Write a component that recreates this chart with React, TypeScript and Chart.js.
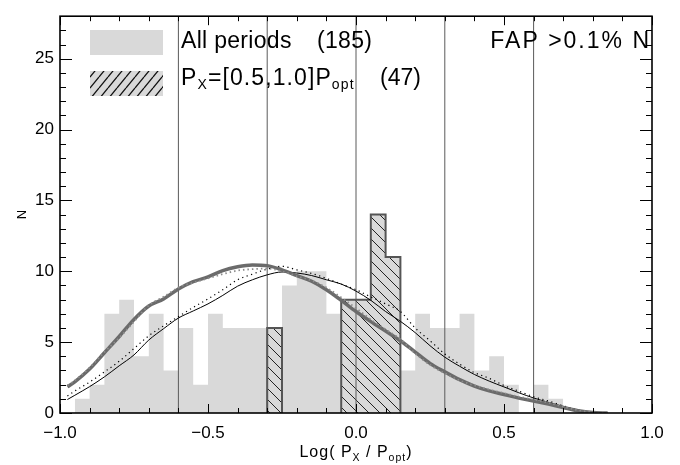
import React, { useEffect, useRef } from 'react';
import { Chart, registerables } from 'chart.js';

Chart.register(...registerables);

// ---------- data ----------
const binWidth = 0.05;
const grayBinStarts = [
  -0.95, -0.9, -0.85, -0.8, -0.75, -0.7, -0.65, -0.6, -0.55, -0.5, -0.45, -0.4, -0.35, -0.3, -0.25, -0.2, -0.15,
  -0.1, -0.05, 0.0, 0.05, 0.1, 0.15, 0.2, 0.25, 0.3, 0.35, 0.4, 0.45, 0.5, 0.55, 0.6, 0.65,
];
const grayCounts = [1, 2, 7, 8, 4, 7, 3, 6, 2, 7, 6, 6, 6, 6, 9, 10, 10, 7, 8, 8, 14, 11, 3, 7, 6, 6, 7, 3, 4, 2, 0, 2, 1];

const hatchBinStarts = [-0.3, -0.05, 0.0, 0.05, 0.1];
const hatchCounts = [6, 8, 8, 14, 11];

const curveX = [
  -0.975, -0.95, -0.9, -0.85, -0.8, -0.75, -0.7, -0.65, -0.6, -0.55, -0.5, -0.45, -0.4, -0.35, -0.3, -0.25, -0.2,
  -0.15, -0.1, -0.05, 0.0, 0.05, 0.1, 0.15, 0.2, 0.25, 0.3, 0.35, 0.4, 0.45, 0.5, 0.55, 0.6, 0.65, 0.7, 0.75, 0.8, 0.85,
];
const allFitThick = [
  1.85, 2.2, 3.1, 4.25, 5.4, 6.6, 7.55, 8.05, 8.75, 9.27, 9.6, 10.05, 10.32, 10.45, 10.4, 10.1, 9.7, 9.3, 8.7, 7.95,
  7.16, 6.45, 5.78, 5.1, 4.3, 3.5, 2.9, 2.35, 1.9, 1.56, 1.31, 1.05, 0.85, 0.63, 0.39, 0.16, 0.03, 0,
];
const allFitDotted = [
  1.95, 2.3, 3.2, 4.3, 5.3, 6.45, 7.6, 8.2, 8.85, 9.2, 9.5, 9.8, 10.05, 10.15, 10.2, 10.0, 9.65, 9.35, 8.85, 8.15,
  7.4, 6.6, 5.9, 5.2, 4.2, 3.4, 2.8, 2.3, 1.95, 1.65, 1.4, 1.15, 0.95, 0.72, 0.45, 0.2, 0.04, 0,
];
const subFitThin = [
  0.95, 1.25, 1.86, 2.55, 3.33, 4.1, 5.15, 5.95, 6.7, 7.2, 7.7, 8.3, 8.95, 9.4, 9.75, 9.95, 9.88, 9.7, 9.4, 9.1,
  8.6, 7.95, 7.16, 6.47, 5.67, 4.75, 3.94, 3.3, 2.72, 2.25, 1.84, 1.43, 1.06, 0.75, 0.46, 0.21, 0.04, 0,
];
const subFitDotted = [
  1.2, 1.55, 2.18, 2.9, 3.65, 4.55, 5.45, 6.15, 6.8, 7.45, 8.05, 8.7, 9.4, 9.8, 10.15, 10.35, 10.1, 9.85, 9.5, 9.1,
  8.7, 8.19, 7.7, 7.16, 6.0, 5.1, 4.17, 3.45, 2.85, 2.45, 1.94, 1.54, 1.15, 0.85, 0.51, 0.23, 0.05, 0,
];

const refLinesX = [-0.6, -0.3, 0.0, 0.3, 0.6];
const xMajorTicks = [-1, -0.5, 0, 0.5, 1];
const xMinorTicks = [-0.9, -0.8, -0.7, -0.6, -0.4, -0.3, -0.2, -0.1, 0.1, 0.2, 0.3, 0.4, 0.6, 0.7, 0.8, 0.9];
const yMajorTicks = [0, 5, 10, 15, 20, 25];
const yMinorTicks = [1, 2, 3, 4, 6, 7, 8, 9, 11, 12, 13, 14, 16, 17, 18, 19, 21, 22, 23, 24, 26, 27];
const xMin = -1;
const xMax = 1;
const yMin = 0;
const yMax = 28;

const legendAllLabel = 'All periods';
const legendAllCount = '(185)';
const legendSubCount = '(47)';
const fapLabel = 'FAP >0.1% N';

// ---------- helpers ----------
const FONT = '"Liberation Sans", Arial, Helvetica, sans-serif';

type Pt = { x: number; y: number };

function stepRuns(starts: number[], counts: number[], width: number): Pt[][] {
  const runs: Pt[][] = [];
  let pts: Pt[] | null = null;
  let end = 0;
  for (let i = 0; i < starts.length; i++) {
    const s = starts[i];
    if (!pts || Math.abs(end - s) > 1e-6) {
      if (pts) {
        pts.push({ x: end, y: 0 });
        runs.push(pts);
      }
      pts = [{ x: s, y: 0 }];
    }
    pts.push({ x: s, y: counts[i] });
    end = s + width;
  }
  if (pts) {
    pts.push({ x: end, y: 0 });
    runs.push(pts);
  }
  return runs;
}

function makeHatch(w: number, h: number, dir: 'back' | 'fwd', bg: string, fg: string, lw: number) {
  const c = document.createElement('canvas');
  c.width = w;
  c.height = h;
  const g = c.getContext('2d')!;
  g.fillStyle = bg;
  g.fillRect(0, 0, w, h);
  g.strokeStyle = fg;
  g.lineWidth = lw;
  g.beginPath();
  for (let k = -1; k <= 1; k++) {
    if (dir === 'back') {
      g.moveTo(k * w, 0);
      g.lineTo(k * w + w, h);
    } else {
      g.moveTo(k * w, h);
      g.lineTo(k * w + w, 0);
    }
  }
  g.stroke();
  return g.createPattern(c, 'repeat')!;
}

type Part = { t: string; sub?: boolean };
function drawRich(
  ctx: CanvasRenderingContext2D,
  parts: Part[],
  x: number,
  y: number,
  size: number,
  subSize: number,
  subDy: number,
  align: 'left' | 'center',
  spacing: number
) {
  (ctx as any).letterSpacing = `${spacing}px`;
  const widths = parts.map((p) => {
    ctx.font = `${p.sub ? subSize : size}px ${FONT}`;
    return ctx.measureText(p.t).width;
  });
  const total = widths.reduce((a, b) => a + b, 0);
  let cx = align === 'center' ? x - total / 2 : x;
  ctx.textAlign = 'left';
  ctx.textBaseline = 'alphabetic';
  parts.forEach((p, i) => {
    ctx.font = `${p.sub ? subSize : size}px ${FONT}`;
    ctx.fillText(p.t, cx, p.sub ? y + subDy : y);
    cx += widths[i];
  });
  (ctx as any).letterSpacing = '0px';
}

const fmtX = (v: number) => (v < 0 ? '\u2212' : '') + Math.abs(v).toFixed(1);

export default function App() {
  const ref = useRef<HTMLCanvasElement>(null);

  useEffect(() => {
    const canvas = ref.current!;
    const barHatch = makeHatch(11, 11, 'back', '#d9d9d9', '#222', 1);
    const legendHatch = makeHatch(9, 11, 'fwd', '#d9d9d9', '#111', 1.3);

    const grayRuns = stepRuns(grayBinStarts, grayCounts, binWidth);
    const hatchRuns = stepRuns(hatchBinStarts, hatchCounts, binWidth);

    const datasets: any[] = [];
    grayRuns.forEach((run) =>
      datasets.push({
        data: run,
        stepped: true,
        fill: 'origin',
        backgroundColor: '#d9d9d9',
        borderColor: 'rgba(0,0,0,0)',
        borderWidth: 0,
        pointRadius: 0,
        order: 10,
      })
    );
    hatchRuns.forEach((run) =>
      datasets.push({
        data: run,
        stepped: true,
        fill: 'origin',
        backgroundColor: barHatch,
        borderColor: '#555',
        borderWidth: 2,
        pointRadius: 0,
        order: 9,
      })
    );
    refLinesX.forEach((xv) =>
      datasets.push({
        data: [
          { x: xv, y: yMin },
          { x: xv, y: yMax },
        ],
        borderColor: '#5a5a5a',
        borderWidth: 1,
        pointRadius: 0,
        fill: false,
        order: 6,
      })
    );
    const curve = (vals: number[]) => curveX.map((x, i) => ({ x, y: vals[i] }));
    datasets.push({
      data: curve(subFitThin),
      borderColor: '#000',
      borderWidth: 1,
      pointRadius: 0,
      fill: false,
      cubicInterpolationMode: 'monotone',
      order: 3,
    });
    datasets.push({
      data: curve(subFitDotted),
      borderColor: '#000',
      borderWidth: 1.2,
      borderDash: [1.2, 3.5],
      pointRadius: 0,
      fill: false,
      cubicInterpolationMode: 'monotone',
      order: 2,
    });
    datasets.push({
      data: curve(allFitThick),
      borderColor: '#6b6b6b',
      borderWidth: 3.5,
      pointRadius: 0,
      fill: false,
      cubicInterpolationMode: 'monotone',
      order: 1,
    });
    datasets.push({
      data: curve(allFitDotted),
      borderColor: '#8c8c8c',
      borderWidth: 1.8,
      borderDash: [1.5, 3],
      pointRadius: 0,
      fill: false,
      cubicInterpolationMode: 'monotone',
      order: 0,
    });

    const overlay = {
      id: 'overlay',
      afterDraw(chart: any) {
        const ctx: CanvasRenderingContext2D = chart.ctx;
        const a = chart.chartArea;
        const xs = chart.scales.x;
        const ys = chart.scales.y;
        ctx.save();
        // ticks (inward, all four sides)
        ctx.strokeStyle = '#000';
        ctx.lineWidth = 1;
        ctx.beginPath();
        const xt = (vals: number[], len: number) =>
          vals.forEach((v) => {
            const px = Math.round(xs.getPixelForValue(v)) + 0.5;
            ctx.moveTo(px, a.bottom);
            ctx.lineTo(px, a.bottom - len);
            ctx.moveTo(px, a.top);
            ctx.lineTo(px, a.top + len);
          });
        const yt = (vals: number[], len: number) =>
          vals.forEach((v) => {
            const py = Math.round(ys.getPixelForValue(v)) + 0.5;
            ctx.moveTo(a.left, py);
            ctx.lineTo(a.left + len, py);
            ctx.moveTo(a.right, py);
            ctx.lineTo(a.right - len, py);
          });
        xt(xMajorTicks, 9);
        xt(xMinorTicks, 5);
        yt(yMajorTicks, 12);
        yt(yMinorTicks, 6);
        ctx.stroke();
        // frame
        ctx.lineWidth = 1.6;
        ctx.strokeRect(a.left, a.top, a.right - a.left, a.bottom - a.top);

        // axis titles
        ctx.fillStyle = '#000';
        drawRich(
          ctx,
          [{ t: 'Log( P' }, { t: 'X', sub: true }, { t: ' / P' }, { t: 'opt', sub: true }, { t: ')' }],
          (a.left + a.right) / 2,
          457,
          16,
          10.5,
          3.5,
          'center',
          1
        );
        ctx.save();
        ctx.translate(22, (a.top + a.bottom) / 2);
        ctx.rotate(-Math.PI / 2);
        ctx.font = `13px ${FONT}`;
        ctx.textAlign = 'center';
        ctx.textBaseline = 'middle';
        ctx.fillText('N', 0, 0);
        ctx.restore();

        // legend
        ctx.fillStyle = '#d9d9d9';
        ctx.fillRect(90, 30, 73, 25);
        ctx.fillStyle = legendHatch;
        ctx.fillRect(90, 71, 73, 25);
        ctx.fillStyle = '#000';
        ctx.font = `23px ${FONT}`;
        ctx.textAlign = 'left';
        ctx.textBaseline = 'alphabetic';
        (ctx as any).letterSpacing = '0.3px';
        ctx.fillText(legendAllLabel, 181, 48);
        ctx.fillText(legendAllCount, 317, 48);
        (ctx as any).letterSpacing = '0px';
        drawRich(
          ctx,
          [{ t: 'P' }, { t: 'X', sub: true }, { t: '=[0.5,1.0]P' }, { t: 'opt', sub: true }],
          181,
          84.5,
          23,
          14,
          4,
          'left',
          1.1
        );
        ctx.font = `23px ${FONT}`;
        ctx.textAlign = 'left';
        ctx.fillText(legendSubCount, 380, 84.5);
        (ctx as any).letterSpacing = '2px';
        ctx.textAlign = 'right';
        ctx.fillText(fapLabel, 651, 48);
        (ctx as any).letterSpacing = '0px';
        ctx.restore();
      },
    };

    const chart = new Chart(canvas, {
      type: 'line',
      data: { datasets },
      options: {
        responsive: false,
        animation: false,
        layout: { padding: { left: 0, right: 28, top: 9, bottom: 0 } },
        plugins: { legend: { display: false }, tooltip: { enabled: false } },
        elements: { line: { tension: 0 } },
        scales: {
          x: {
            type: 'linear',
            min: xMin,
            max: xMax,
            afterBuildTicks: (s: any) => {
              s.ticks = xMajorTicks.map((v) => ({ value: v }));
            },
            afterFit: (s: any) => {
              s.height = 52;
            },
            ticks: {
              callback: (v: any) => fmtX(Number(v)),
              font: { family: FONT, size: 17 },
              color: '#000',
              padding: 10,
              maxRotation: 0,
              autoSkip: false,
            },
            grid: { display: false, drawTicks: false },
            border: { display: false },
          },
          y: {
            type: 'linear',
            min: yMin,
            max: yMax,
            afterBuildTicks: (s: any) => {
              s.ticks = yMajorTicks.map((v) => ({ value: v }));
            },
            afterFit: (s: any) => {
              s.width = 60;
            },
            ticks: {
              callback: (v: any) => String(v),
              font: { family: FONT, size: 17 },
              color: '#000',
              padding: 6,
              autoSkip: false,
            },
            grid: { display: false, drawTicks: false },
            border: { display: false },
          },
        },
      },
      plugins: [overlay],
    } as any);
    return () => chart.destroy();
  }, []);

  return (
    <div style={{ position: 'fixed', left: 0, top: 0, width: 680, height: 465, background: '#fff' }}>
      <canvas ref={ref} width={680} height={465} style={{ display: 'block' }} />
    </div>
  );
}
